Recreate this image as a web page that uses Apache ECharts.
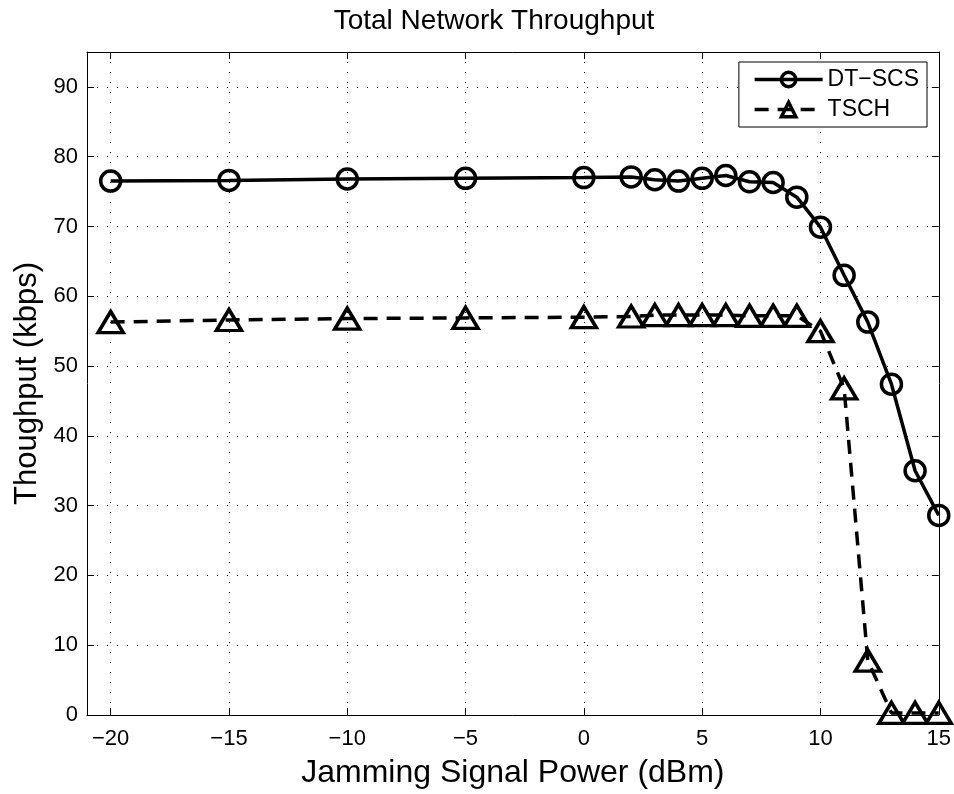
<!DOCTYPE html>
<html>
<head>
<meta charset="utf-8">
<script src="https://cdn.jsdelivr.net/npm/echarts@6/dist/echarts.min.js"></script>
<style>
  html, body { margin: 0; padding: 0; background: #fff; }
  #chart { width: 954px; height: 794px; }
</style>
</head>
<body>
<div id="chart"></div>
<script>
// values
const jamPower = [-20, -15, -10, -5, 0, 2, 3, 4, 5, 6, 7, 8, 9, 10, 11, 12, 13, 14, 15]
const dtScs = [76.5, 76.6, 76.8, 76.9, 77.0, 77.1, 76.7, 76.5, 76.9, 77.3, 76.4, 76.3, 74.2, 69.9, 63.0, 56.3, 47.4, 35.0, 28.6]
const tsch = [56.3, 56.6, 56.8, 56.9, 57.0, 57.1, 57.3, 57.3, 57.3, 57.3, 57.2, 57.2, 57.2, 55.0, 46.8, 7.8, 0.3, 0.3, 0.3]
const xTicks = [-20, -15, -10, -5, 0, 5, 10, 15]
const yTicks = [0, 10, 20, 30, 40, 50, 60, 70, 80, 90]

const FONT = 'Liberation Sans'
const minus = (v) => (v < 0 ? '\u2212' + (-v) : String(v))

const chart = echarts.init(document.getElementById('chart'))

const baseX = {
  type: 'value', min: -21, max: 15,
  axisLine: { show: true, onZero: false, lineStyle: { color: '#000', width: 1 } },
  axisTick: { show: true, inside: true, length: 7, customValues: xTicks, lineStyle: { color: '#000' } },
}
const baseY = {
  type: 'value', min: 0, max: 95,
  axisLine: { show: true, onZero: false, lineStyle: { color: '#000', width: 1 } },
  axisTick: { show: true, inside: true, length: 7, customValues: yTicks, lineStyle: { color: '#000' } },
}

chart.setOption({
  animation: false,
  textStyle: { fontFamily: FONT },
  title: {
    text: 'Total Network Throughput',
    left: 489, top: 2, textAlign: 'center',
    textStyle: { fontFamily: FONT, fontSize: 28, fontWeight: 'normal', color: '#000' },
  },
  grid: { left: 87, right: 15, top: 52, bottom: 71, containLabel: false },
  legend: {
    orient: 'vertical', right: 27, top: 62,
    backgroundColor: '#fff', borderColor: '#000', borderWidth: 1,
    padding: [6, 8, 6, 14], itemGap: 7,
    itemWidth: 68, itemHeight: 18,
    lineStyle: { width: 3.5 },
    itemStyle: { borderWidth: 3.5 },
    textStyle: { fontFamily: FONT, fontSize: 23, color: '#000' },
    data: ['DT\u2212SCS', 'TSCH'],
  },
  xAxis: [
    {
      ...baseX, position: 'bottom',
      name: 'Jamming Signal Power (dBm)', nameLocation: 'middle', nameGap: 42,
      nameTextStyle: { fontFamily: FONT, fontSize: 32, color: '#000' },
      axisLabel: { customValues: xTicks, formatter: minus, color: '#000', fontSize: 22, fontFamily: FONT, margin: 13 },
      splitLine: { show: true, lineStyle: { color: '#000', width: 1, type: [1, 9] } },
    },
    { ...baseX, position: 'top', axisLabel: { show: false }, splitLine: { show: false } },
  ],
  yAxis: [
    {
      ...baseY, position: 'left',
      name: 'Thoughput (kbps)', nameLocation: 'middle', nameGap: 38,
      nameTextStyle: { fontFamily: FONT, fontSize: 31, color: '#000' },
      axisLabel: { customValues: yTicks, color: '#000', fontSize: 22, fontFamily: FONT, margin: 9 },
      splitLine: { show: true, lineStyle: { color: '#000', width: 1, type: [1, 9] } },
    },
    { ...baseY, position: 'right', axisLabel: { show: false }, splitLine: { show: false } },
  ],
  series: [
    {
      name: 'DT\u2212SCS', type: 'line',
      data: jamPower.map((x, i) => [x, dtScs[i]]),
      symbol: 'circle', symbolSize: 20,
      lineStyle: { color: '#000', width: 3.5 },
      itemStyle: { color: 'rgba(0,0,0,0)', borderColor: '#000', borderWidth: 3.5 },
      z: 3,
    },
    {
      name: 'TSCH', type: 'line',
      data: jamPower.map((x, i) => [x, tsch[i]]),
      symbol: 'triangle', symbolSize: [25, 21],
      lineStyle: { color: '#000', width: 3.5, type: [14, 9] },
      itemStyle: { color: 'rgba(0,0,0,0)', borderColor: '#000', borderWidth: 3.5 },
      z: 3,
    },
  ],
})
</script>
</body>
</html>
